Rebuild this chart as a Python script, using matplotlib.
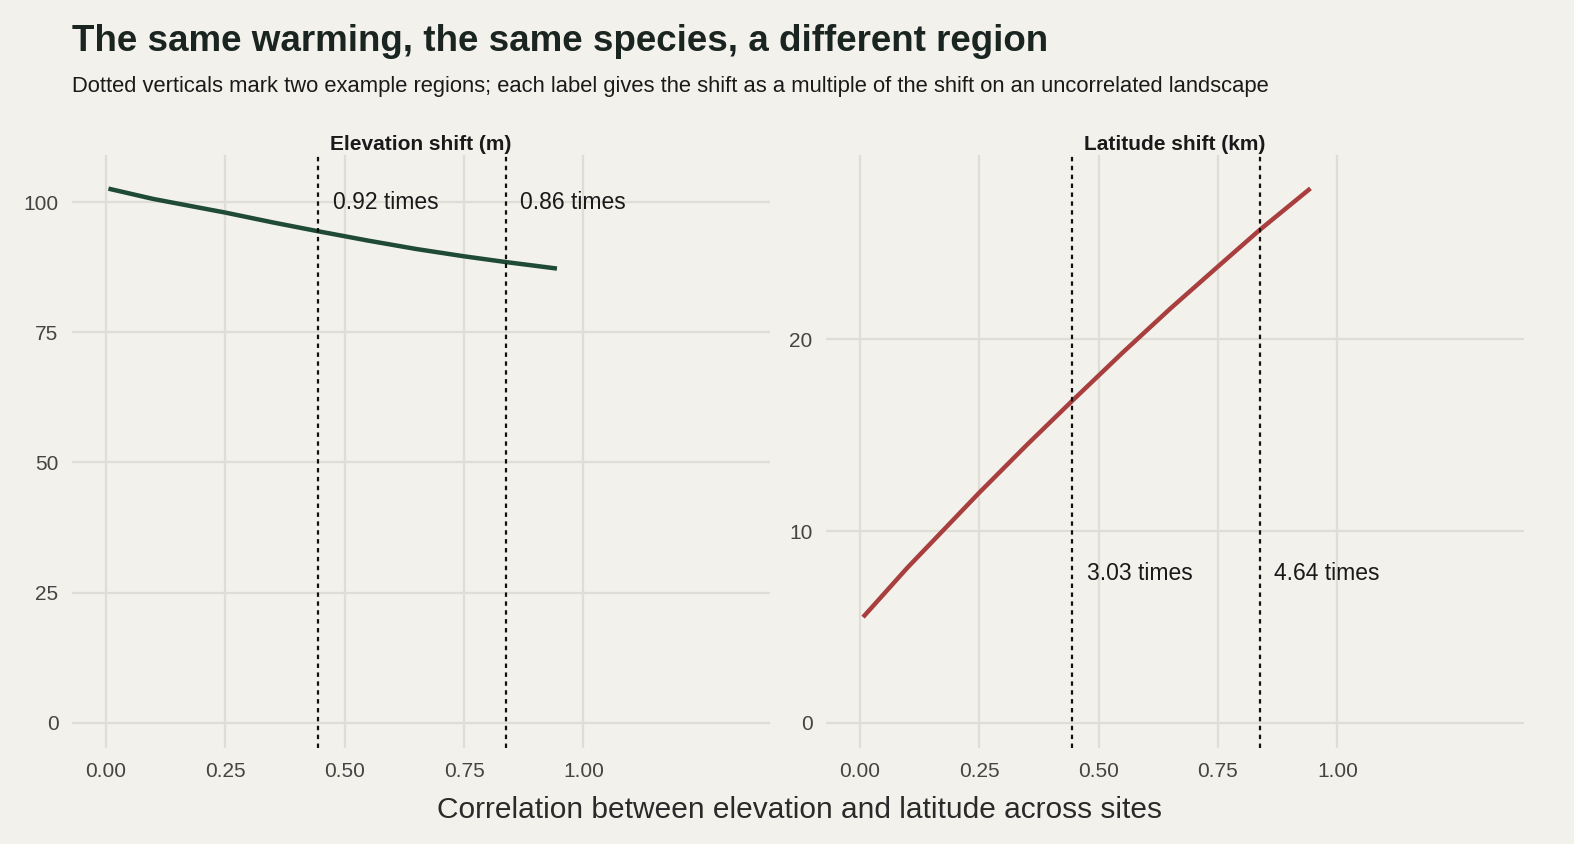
import matplotlib.pyplot as plt

# data
corr = [0.01, 0.1, 0.25, 0.35, 0.445, 0.55, 0.65, 0.75, 0.837, 0.94]
elev_shift = [102.5, 100.6, 98.0, 96.1, 94.4, 92.6, 91.0, 89.6, 88.5, 87.3]
lat_shift = [5.6, 8.1, 12.0, 14.5, 16.8, 19.3, 21.6, 23.8, 25.7, 27.8]
regions = [0.445, 0.837]
elev_labels = ["0.92 times", "0.86 times"]
lat_labels = ["3.03 times", "4.64 times"]

bg = "#F2F1EB"
plt.rcParams['font.family'] = ['Liberation Sans', 'DejaVu Sans']
fig = plt.figure(figsize=(15.74, 8.44), dpi=100, facecolor=bg)

ax1 = fig.add_axes([0.046, 0.114, 0.443, 0.702])
ax2 = fig.add_axes([0.525, 0.114, 0.443, 0.702])

panels = [
    (ax1, elev_shift, "#1F4A33", "Elevation shift (m)", elev_labels, 100, (-4.8, 109), [0, 25, 50, 75, 100]),
    (ax2, lat_shift, "#A83E3E", "Latitude shift (km)", lat_labels, 7.8, (-1.3, 29.6), [0, 10, 20]),
]
for ax, ys, col, title, labs, ly, ylim, yt in panels:
    ax.set_facecolor(bg)
    ax.plot(corr, ys, color=col, lw=3.2, zorder=3)
    for xv, lab in zip(regions, labs):
        ax.axvline(xv, color="#111111", ls=(0, (2, 2)), lw=1.6, zorder=4)
        ax.text(xv + 0.03, ly, lab, fontsize=16.5, color="#1a1a1a", va="center")
    ax.set_xlim(-0.07, 1.39)
    ax.set_ylim(*ylim)
    ax.set_xticks([0, 0.25, 0.5, 0.75, 1.0])
    ax.set_xticklabels(["0.00", "0.25", "0.50", "0.75", "1.00"])
    ax.set_yticks(yt)
    ax.grid(color="#DEDDD6", lw=1.6)
    ax.set_axisbelow(True)
    for s in ax.spines.values():
        s.set_visible(False)
    ax.tick_params(length=0, labelsize=15, labelcolor="#444444", pad=10)
    ax.set_title(title, fontsize=15, fontweight="bold", color="#1a1a1a", pad=4)

fig.text(0.046, 0.951, "The same warming, the same species, a different region",
         fontsize=26.5, fontweight="bold", color="#1a2420", va="center")
fig.text(0.046, 0.897, "Dotted verticals mark two example regions; each label gives the shift as a multiple of the shift on an uncorrelated landscape",
         fontsize=15.8, color="#1a1a1a", va="center")
fig.text(0.508, 0.04, "Correlation between elevation and latitude across sites",
         fontsize=21.5, color="#2a2a2a", ha="center", va="center")

fig.savefig("out.png", dpi=100, facecolor=bg)
